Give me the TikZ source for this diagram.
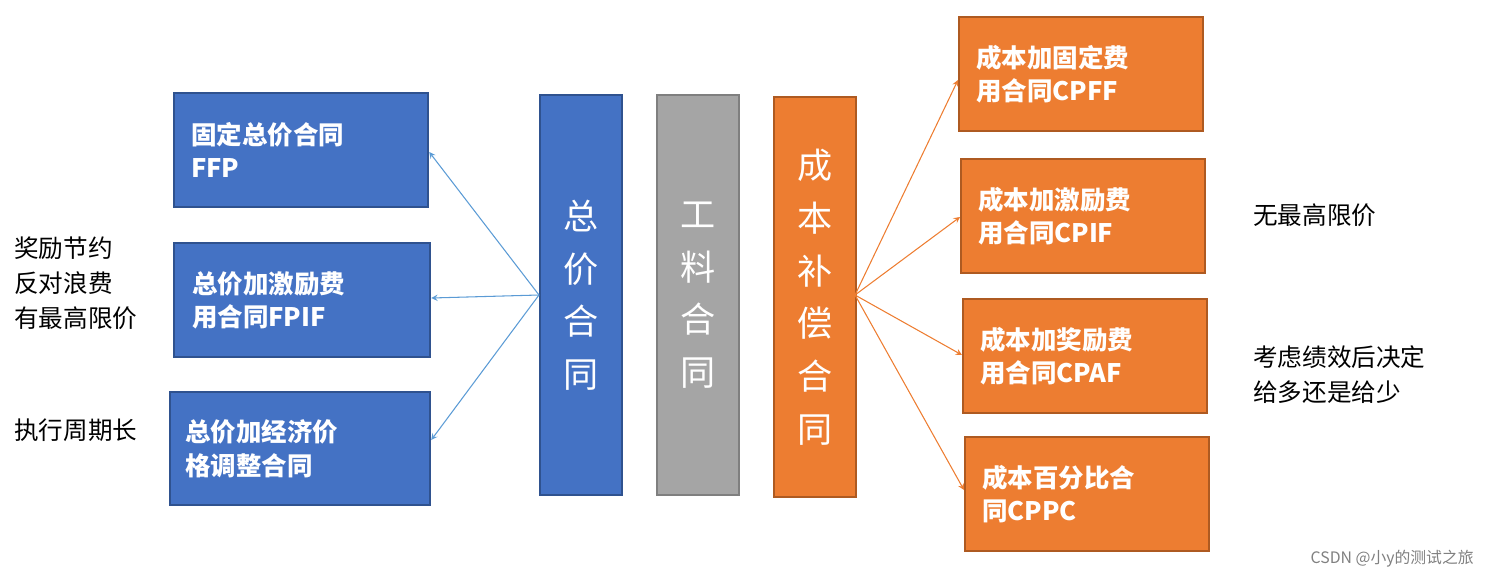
\documentclass[tikz,border=0pt]{standalone}
\usepackage{fontspec}
\setmainfont{Noto Sans CJK SC}
\definecolor{bl}{HTML}{4472C4}\definecolor{blb}{HTML}{2F528F}
\definecolor{gr}{HTML}{A5A5A5}\definecolor{grb}{HTML}{7F7F7F}
\definecolor{or}{HTML}{ED7D31}\definecolor{orb}{HTML}{AE5A21}
\definecolor{lb}{HTML}{5B9BD5}
\begin{document}
\begin{tikzpicture}[x=0.02cm,y=-0.02cm,
 box/.style={draw=#1b,fill=#1,line width=1.3pt,text=white,font=\fontsize{14.5}{19}\selectfont\bfseries,align=left,inner sep=0pt,anchor=north west},
 small/.style={minimum width=#1*0.02cm},
 vt/.style={draw=#1b,fill=#1,line width=1.3pt,text=white,font=\fontsize{20}{30}\selectfont,align=center,inner sep=0pt,anchor=north west,minimum width=1.64cm,minimum height=8cm},
 side/.style={font=\fontsize{14}{20}\selectfont,align=left,anchor=north west,inner sep=0pt},
 ab/.style={-stealth,lb,line width=0.6pt},
 ao/.style={-stealth,or,line width=0.6pt}]
\useasboundingbox (0,0) rectangle (1488,579);
\node[box=bl,minimum width=5.08cm,minimum height=2.28cm,text width=4.4cm] (ffp) at (173,92) {固定总价合同\\FFP};
\node[box=bl,minimum width=5.12cm,minimum height=2.28cm,text width=4.4cm] (fpif) at (173,242) {总价加激励费\\用合同FPIF};
\node[box=bl,minimum width=5.2cm,minimum height=2.26cm,text width=4.6cm] (fpepa) at (169,391) {总价加经济价\\格调整合同};
\node[vt=bl] (zj) at (539,94) {总\\价\\合\\同};
\node[vt=gr] (gl) at (656,94) {工\\料\\合\\同};
\node[vt=or] (cb) at (773,96) {成\\本\\补\\偿\\合\\同};
\node[box=or,minimum width=4.88cm,minimum height=2.28cm,text width=4.2cm] (cpff) at (958,16) {成本加固定费\\用合同CPFF};
\node[box=or,minimum width=4.88cm,minimum height=2.28cm,text width=4.2cm] (cpif) at (960,158) {成本加激励费\\用合同CPIF};
\node[box=or,minimum width=4.88cm,minimum height=2.28cm,text width=4.2cm] (cpaf) at (962,298) {成本加奖励费\\用合同CPAF};
\node[box=or,minimum width=4.88cm,minimum height=2.28cm,text width=4.2cm] (cppc) at (964,436) {成本百分比合\\同CPPC};
\coordinate (zs) at (539,295);
\coordinate (cs) at (855,295);
\draw[ab] (zs) -- (ffp.east|-0,152);
\draw[ab] (zs) -- (fpif.east|-0,298);
\draw[ab] (zs) -- (fpepa.east|-0,440);
\draw[ao] (cs) -- (cpff.west|-0,80);
\draw[ao] (cs) -- (cpif.west|-0,217);
\draw[ao] (cs) -- (cpaf.west|-0,355);
\draw[ao] (cs) -- (cppc.west|-0,490);
\node[side] (t1) at (14,236) {奖励节约\\反对浪费\\有最高限价};
\node[side] (t2) at (14,418) {执行周期长};
\node[side] (t3) at (1253,203) {无最高限价};
\node[side] (t4) at (1253,345) {考虑绩效后决定\\给多还是给少};
\node[font=\fontsize{9}{10}\selectfont,text=gray,anchor=east,inner sep=0pt] (wm) at (1474,559) {CSDN @小y的测试之旅};
\end{tikzpicture}
\end{document}
